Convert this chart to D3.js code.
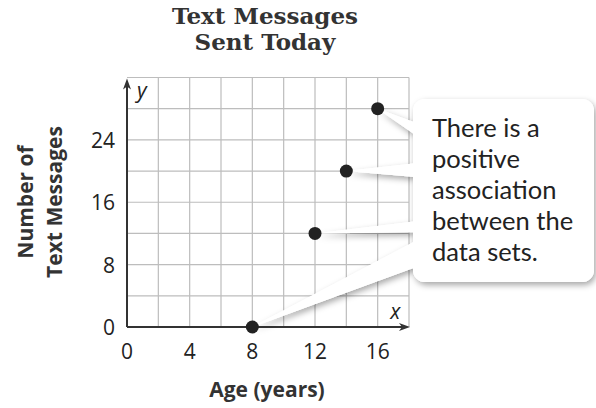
<!DOCTYPE html>
<html>
<head>
<meta charset="utf-8">
<script src="https://cdn.jsdelivr.net/npm/d3@7"></script>
<style>
  body { margin: 0; background: #fff; }
  svg { display: block; }
</style>
</head>
<body>
<div id="chart"></div>
<script>
// values
var ages = [8, 12, 14, 16]
var messages = [0, 12, 20, 28]
var xTicks = [0, 4, 8, 12, 16]
var yTicks = [0, 8, 16, 24]
var titleLines = ["Text Messages", "Sent Today"]
var yLabelLines = ["Number of", "Text Messages"]
var xLabel = "Age (years)"
var noteLines = ["There is a", "positive", "association", "between the", "data sets."]

var width = 596, height = 408

var svg = d3.select("#chart").append("svg")
  .attr("width", width)
  .attr("height", height)

var x = d3.scaleLinear().domain([0, 18]).range([127, 409])
var y = d3.scaleLinear().domain([0, 32]).range([327, 77.5])

var defs = svg.append("defs")
var shadow = defs.append("filter").attr("id", "shadow")
  .attr("x", "-20%").attr("y", "-20%").attr("width", "150%").attr("height", "150%")
shadow.append("feDropShadow")
  .attr("dx", 2).attr("dy", 3).attr("stdDeviation", 3)
  .attr("flood-color", "#000").attr("flood-opacity", 0.35)

// grid
var g = svg.append("g")
g.selectAll(".vgrid").data(d3.range(2, 19, 2)).enter().append("line")
  .attr("x1", d => x(d)).attr("x2", d => x(d))
  .attr("y1", y(0)).attr("y2", y(32))
  .attr("stroke", "#bdbdbd").attr("stroke-width", 1.2)
g.selectAll(".hgrid").data(d3.range(4, 33, 4)).enter().append("line")
  .attr("y1", d => y(d)).attr("y2", d => y(d))
  .attr("x1", x(0)).attr("x2", x(18))
  .attr("stroke", "#bdbdbd").attr("stroke-width", 1.2)

// axes with arrows
var axisColor = "#333"
g.append("line").attr("x1", x(0)).attr("x2", x(0)).attr("y1", y(0)).attr("y2", y(32) + 6)
  .attr("stroke", axisColor).attr("stroke-width", 2)
g.append("path")
  .attr("d", "M" + x(0) + "," + (y(32) + 1) + "l-4,11l4,-3l4,3z")
  .attr("fill", axisColor)
g.append("line").attr("x1", x(0)).attr("x2", x(18) - 6).attr("y1", y(0)).attr("y2", y(0))
  .attr("stroke", axisColor).attr("stroke-width", 2)
g.append("path")
  .attr("d", "M" + (x(18) + 1) + "," + y(0) + "l-11,-4l3,4l-3,4z")
  .attr("fill", axisColor)

g.append("text").attr("x", x(0) + 10).attr("y", y(32) + 20)
  .attr("font-family", "Open Sans").attr("font-style", "italic").attr("font-size", 21)
  .attr("fill", "#222").text("y")
g.append("text").attr("x", x(17) + 2).attr("y", y(0) - 8)
  .attr("font-family", "Open Sans").attr("font-style", "italic").attr("font-size", 21)
  .attr("fill", "#222").attr("text-anchor", "middle").text("x")

// tick labels
g.selectAll(".xt").data(xTicks).enter().append("text")
  .attr("x", d => x(d)).attr("y", y(0) + 32)
  .attr("text-anchor", "middle")
  .attr("font-family", "Open Sans").attr("font-size", 21).attr("fill", "#222")
  .text(d => d)
g.selectAll(".yt").data(yTicks).enter().append("text")
  .attr("x", x(0) - 12).attr("y", d => y(d) + 8)
  .attr("text-anchor", "end")
  .attr("font-family", "Open Sans").attr("font-size", 21).attr("fill", "#222")
  .text(d => d)

// titles
svg.selectAll(".title").data(titleLines).enter().append("text")
  .attr("x", 265).attr("y", (d, i) => 24 + i * 26)
  .attr("text-anchor", "middle")
  .attr("font-family", "DejaVu Serif").attr("font-weight", "bold").attr("font-size", 23)
  .attr("fill", "#333")
  .text(d => d)

svg.selectAll(".ylab").data(yLabelLines).enter().append("text")
  .attr("transform", (d, i) => "translate(" + (33 + i * 29) + ",202) rotate(-90)")
  .attr("text-anchor", "middle")
  .attr("font-family", "Open Sans").attr("font-weight", "bold").attr("font-size", 21)
  .attr("fill", "#333")
  .text(d => d)

svg.append("text").attr("x", 267).attr("y", 397)
  .attr("text-anchor", "middle")
  .attr("font-family", "Open Sans").attr("font-weight", "bold").attr("font-size", 21)
  .attr("fill", "#333")
  .text(xLabel)

// callout
var box = {x: 413, y: 99, w: 181, h: 183}
var points = ages.map((a, i) => ({age: a, count: messages[i]}))
// where each pointer meets the box edge, same order as points
var wedgeBase = [[235, 263], [220, 232], [162, 178], [127, 143]]

function wedge(d, i) {
  return "M" + x(d.age) + "," + y(d.count) +
    "L" + (box.x + 14) + "," + wedgeBase[i][0] +
    "L" + (box.x + 14) + "," + wedgeBase[i][1] + "Z"
}

var callout = svg.append("g").attr("filter", "url(#shadow)")
callout.selectAll(".wedge").data(points).enter().append("path")
  .attr("d", wedge).attr("fill", "#fff")
callout.append("rect")
  .attr("x", box.x).attr("y", box.y).attr("width", box.w).attr("height", box.h)
  .attr("rx", 12).attr("fill", "#fff")
// cover the shadow where pointers join the box
svg.selectAll(".wedge2").data(points).enter().append("path")
  .attr("d", wedge).attr("fill", "#fff")
svg.append("rect")
  .attr("x", box.x).attr("y", box.y).attr("width", box.w).attr("height", box.h)
  .attr("rx", 12).attr("fill", "#fff")

svg.selectAll(".note").data(noteLines).enter().append("text")
  .attr("x", 432).attr("y", (d, i) => 137 + i * 31)
  .attr("font-family", "Lato").attr("font-size", 25.5).attr("fill", "#222")
  .text(d => d)

// points
svg.selectAll(".dot").data(points).enter().append("circle")
  .attr("cx", d => x(d.age)).attr("cy", d => y(d.count))
  .attr("r", 6.5).attr("fill", "#222")
</script>
</body>
</html>
